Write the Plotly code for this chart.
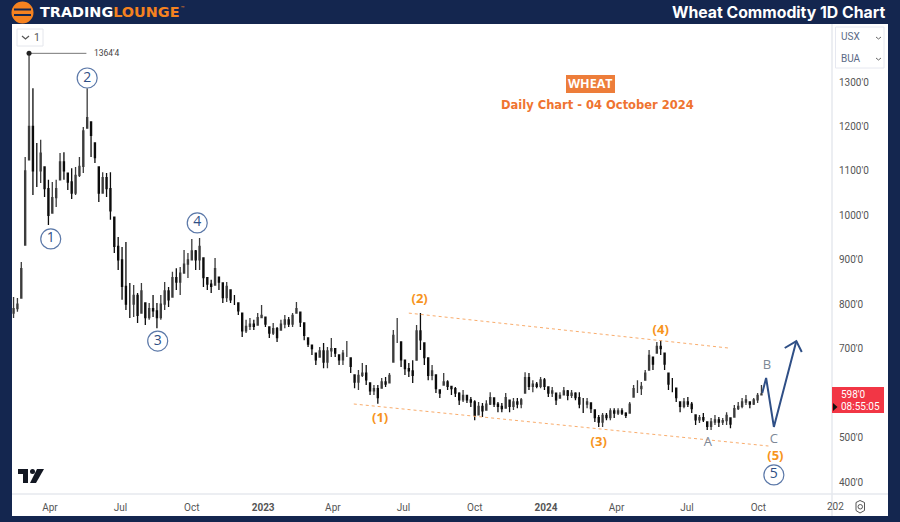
import numpy as np
import pandas as pd
import plotly.graph_objects as go

# ---------- data ----------
start_date = "2022-02-13"
highs = [816,814,895,1131,1364.5,1286,1163,1170,1109,1080,1075,1080,1140,1142,1095,1106,1109,1131,1199,1286,
 1210,1163,1109,1097,1095,1097,996,951,929,940,848,843,825,848,803,803,821,803,821,850,
 839,873,881,884,922,915,947,922,949,904,861,855,904,861,848,850,832,821,803,780,
 765,769,765,780,798,771,749,758,749,765,776,771,780,805,782,758,724,708,690,704,
 713,704,724,701,686,697,717,679,641,652,668,663,623,618,618,634,636,645,742,769,
 715,674,668,674,753,780,713,679,663,641,607,645,629,616,614,602,607,596,591,584,
 580,578,584,602,589,580,578,600,584,589,589,589,647,645,629,625,636,634,614,614,
 600,602,614,607,607,602,602,589,589,578,562,551,555,555,566,566,566,566,557,580,
 618,629,625,652,697,681,715,719,690,645,634,611,580,589,591,580,551,551,555,535,
 544,551,546,544,557,544,573,580,589,596,580,589,600,618]
lows = [769,783,814,933,1125,1046,1064,1073,1041,978,1005,1019,1080,1080,1057,1037,1046,1086,1095,1196,
 1131,1118,1030,1050,1041,990,915,877,810,787,769,771,758,780,753,765,771,746,765,787,
 794,816,832,821,870,859,900,877,877,839,832,825,843,832,803,805,803,798,776,726,
 735,742,742,753,769,749,724,731,715,742,746,749,749,780,749,719,704,686,663,681,
 656,656,681,681,663,663,681,645,611,607,636,618,596,596,576,611,614,623,670,713,
 659,641,636,623,674,697,663,629,629,600,589,618,607,596,591,573,580,578,569,539,
 551,546,562,573,569,557,557,566,557,562,566,566,600,607,602,611,611,607,591,591,
 573,589,596,584,589,584,566,555,566,555,535,524,524,539,539,544,551,551,544,555,
 591,600,596,629,652,652,690,686,652,607,602,580,557,566,569,555,528,533,535,517,
 517,528,524,528,528,521,546,562,566,573,566,573,578,596]
closes = [790,800,880,1100,1200,1100,1100,1140,1060,1000,1040,1060,1120,1100,1075,1050,1090,1110,1190,1220,
 1180,1130,1050,1085,1060,1010,930,900,840,800,800,820,775,830,770,790,785,770,800,830,
 810,860,850,870,890,900,920,900,930,860,845,840,880,850,815,840,810,810,785,740,
 750,755,750,770,775,755,735,745,725,755,765,755,775,790,760,730,710,700,675,695,
 670,695,700,690,675,690,690,660,625,640,645,630,605,610,590,625,620,640,730,730,
 675,655,650,640,740,720,680,640,650,610,600,625,615,610,600,585,595,585,580,550,
 570,560,575,590,575,570,565,590,570,580,575,585,635,615,620,615,630,615,600,605,
 585,595,605,595,600,590,575,575,580,565,545,535,550,545,560,555,560,555,550,575,
 610,610,615,645,685,665,705,700,665,620,620,590,570,580,575,565,540,545,540,525,
 535,540,535,538,550,530,565,570,580,585,575,585,595,598]

price_ticks = [1300,1200,1100,1000,900,800,700,500,400]
price_labels = ["1300'0","1200'0","1100'0","1000'0","900'0","800'0","700'0","500'0","400'0"]
date_ticks = ["2022-04-01","2022-07-01","2022-10-01","2023-01-01","2023-04-01","2023-07-01",
              "2023-10-01","2024-01-01","2024-04-01","2024-07-01","2024-10-01"]
date_labels = ["Apr","Jul","Oct","<b>2023</b>","Apr","Jul","Oct","<b>2024</b>","Apr","Jul","Oct"]

circle_labels = ["1","2","3","4","5"]
circle_dates = ["2022-04-02","2022-05-19","2022-08-18","2022-10-08","2024-10-21"]
circle_prices = [947,1309,717,983,416]

orange_labels = ["<b>(1)</b>","<b>(2)</b>","<b>(3)</b>","<b>(4)</b>","<b>(5)</b>"]
orange_dates = ["2023-06-01","2023-07-22","2024-03-09","2024-05-28","2024-10-23"]
orange_prices = [542,809.5,488,740,456]

grey_labels = ["A","B","C"]
grey_dates = ["2024-07-28","2024-10-12","2024-10-21"]
grey_prices = [488,661,494]

upper_dates = ["2023-07-08","2024-08-23"]
upper_prices = [780,701.5]
lower_dates = ["2023-04-28","2024-10-14"]
lower_prices = [575.5,481]

path_dates = ["2024-10-06","2024-10-11","2024-10-21","2024-11-19"]
path_prices = [600,634,524,717]
head_dates = ["2024-11-04","2024-11-19","2024-11-26"]
head_prices = [701.5,717,692.5]

high_dates = ["2022-03-05","2022-05-18"]
high_prices = [1364.5,1364.5]

# ---------- styling ----------
NAVY = "#14264f"
ORANGE = "#f7941d"
WAVE_BLUE = "#2f4f86"
GREY = "#7d8896"
W, H = 900, 522
L, R, T, B = 12, 832, 24, 494

def fx(x): return (x - L) / (R - L)
def fy(y): return (B - y) / (B - T)

dates = pd.date_range(start_date, periods=len(closes), freq="5D")
highs_a, lows_a, closes_a = map(np.array, (highs, lows, closes))
opens = np.clip(np.r_[780, closes_a[:-1]], lows_a, highs_a)

fig = go.Figure()
fig.add_trace(go.Candlestick(
    x=dates, open=opens, high=highs_a, low=lows_a, close=closes_a,
    increasing=dict(line=dict(color="#3c3c3c", width=1.3), fillcolor="#5a5a5a"),
    decreasing=dict(line=dict(color="#0c0c0c", width=1.3), fillcolor="#0c0c0c"),
    whiskerwidth=0, hoverinfo="skip", showlegend=False))

fig.add_trace(go.Scatter(x=upper_dates, y=upper_prices, mode="lines",
                         line=dict(color="#f9ac6c", width=1, dash="dot"), hoverinfo="skip"))
fig.add_trace(go.Scatter(x=lower_dates, y=lower_prices, mode="lines",
                         line=dict(color="#f9ac6c", width=1, dash="dot"), hoverinfo="skip"))
fig.add_trace(go.Scatter(x=path_dates, y=path_prices, mode="lines",
                         line=dict(color=WAVE_BLUE, width=2), hoverinfo="skip"))
fig.add_trace(go.Scatter(x=head_dates, y=head_prices, mode="lines",
                         line=dict(color=WAVE_BLUE, width=2), hoverinfo="skip"))
fig.add_trace(go.Scatter(x=high_dates, y=high_prices, mode="lines",
                         line=dict(color="#777777", width=1), hoverinfo="skip"))
fig.add_trace(go.Scatter(x=high_dates[:1], y=high_prices[:1], mode="markers",
                         marker=dict(color="#222222", size=5), hoverinfo="skip"))
fig.add_trace(go.Scatter(x=circle_dates, y=circle_prices, mode="markers+text", text=circle_labels,
                         textposition="middle center",
                         textfont=dict(color=WAVE_BLUE, size=14, family="Open Sans"),
                         marker=dict(size=20, color="rgba(255,255,255,0.9)",
                                     line=dict(color="#5b78a8", width=1.2)), hoverinfo="skip"))
fig.add_trace(go.Scatter(x=orange_dates, y=orange_prices, mode="text", text=orange_labels,
                         textposition="middle center",
                         textfont=dict(color=ORANGE, size=13, family="Open Sans"), hoverinfo="skip"))
fig.add_trace(go.Scatter(x=grey_dates, y=grey_prices, mode="text", text=grey_labels,
                         textposition="middle center",
                         textfont=dict(color=GREY, size=13, family="Open Sans"), hoverinfo="skip"))

shapes = []
def rect(x0, y0, x1, y1, fill, line=None, layer="above", lw=1):
    shapes.append(dict(type="rect", xref="paper", yref="paper", x0=fx(x0), x1=fx(x1), y0=fy(y0), y1=fy(y1),
                       fillcolor=fill, line=dict(color=line or fill, width=lw if line else 0), layer=layer))
def path(points, fill=None, line=None, lw=1, close=False):
    d = "M " + " L ".join(f"{fx(x):.5f},{fy(y):.5f}" for x, y in points) + (" Z" if close else "")
    shapes.append(dict(type="path", xref="paper", yref="paper", path=d, fillcolor=fill or "rgba(0,0,0,0)",
                       line=dict(color=line or "rgba(0,0,0,0)", width=lw), layer="above"))

# panels
rect(832, 24, 888, 516, "#ffffff", layer="below")
rect(12, 494, 832, 516, "#ffffff", layer="below")
path([(12, 494), (888, 494)], line="#e6e8ee", lw=1.5)
path([(832, 24), (832, 516)], line="#e6e8ee", lw=1.5)

# logo
shapes.append(dict(type="circle", xref="paper", yref="paper", x0=fx(11.5), x1=fx(33.5), y0=fy(23.5), y1=fy(1.5),
                   fillcolor="#f58220", line=dict(width=0), layer="above"))
rect(14, 8.5, 31, 10.5, NAVY)
rect(14, 14, 31, 16, NAVY)

# top-left button, selectors
shapes.append(dict(type="path", xref="paper", yref="paper", layer="above", fillcolor="#ffffff",
                   line=dict(color="#e4e6ec", width=1),
                   path=f"M {fx(17)},{fy(29)} L {fx(43)},{fy(29)} L {fx(43)},{fy(46)} L {fx(17)},{fy(46)} Z"))
path([(22, 36), (25.5, 39), (29, 36)], line="#555555", lw=1.2)
rect(835.5, 27, 884, 68, "#ffffff", line="#e6e8f0")
path([(876, 37), (878.5, 39), (881, 37)], line="#666666", lw=1)
path([(876, 58), (878.5, 60), (881, 58)], line="#666666", lw=1)

# last price tag
rect(832, 387, 884, 413, "#f23645")
path([(833, 403), (837.5, 407), (833, 411)], fill="#111111", close=True)

# gear
path([(856, 502.5), (860, 500.5), (864.5, 502.5), (864.5, 510.5), (860, 513), (856, 510.5)], line="#555555", lw=1, close=True)
shapes.append(dict(type="circle", xref="paper", yref="paper", x0=fx(858), x1=fx(862.5), y0=fy(509), y1=fy(504.5),
                   line=dict(color="#555555", width=1), layer="above"))

# TradingView mark
rect(18, 469, 28, 474, "#131722")
rect(23, 469, 28, 483, "#131722")
shapes.append(dict(type="circle", xref="paper", yref="paper", x0=fx(30), x1=fx(35), y0=fy(474), y1=fy(469),
                   fillcolor="#131722", line=dict(width=0), layer="above"))
path([(37, 469), (44, 469), (36, 483), (30, 483)], fill="#131722", close=True)

# WHEAT badge
rect(566, 75, 615, 93, "#ed7d3a")

annotations = []
def text(x, y, s, size=10, color="#555555", anchor="center", family="Roboto"):
    annotations.append(dict(xref="paper", yref="paper", x=fx(x), y=fy(y), text=s, showarrow=False,
                            xanchor=anchor, yanchor="middle", align="left",
                            font=dict(size=size, color=color, family=family)))

text(887, 12.5, "<b>Wheat Commodity 1D Chart</b>", 15.8, "#ffffff", "right", "Inter")
text(38, 12.5, "<b>TRADING<span style='color:#f58220'>LOUNGE</span></b>", 14.4, "#ffffff", "left", "DejaVu Sans")
text(183, 8, "™", 6, "#f58220")
text(37, 37.5, "1", 10.5, "#555555")
text(839, 37, "USX", 10, "#5b6a86", "left")
text(839, 58, "BUA", 10, "#5b6a86", "left")
text(590.5, 84, "<b>WHEAT</b>", 12.5, "#ffffff", "center", "Open Sans")
text(597.5, 104.5, "<b>Daily Chart - 04 October 2024</b>", 11.5, "#ef7430", "center", "DejaVu Sans")
text(107, 53, "1364'4", 8.5, "#444444")
text(839, 394, "598'0", 10, "#ffffff", "left")
text(839, 406, "08:55:05", 10, "#ffffff", "left")
text(825, 506.5, "202", 10, "#555555", "left")

fig.update_layout(
    width=W, height=H, margin=dict(l=L, r=W - R, t=T, b=H - B, pad=0, autoexpand=False),
    paper_bgcolor=NAVY, plot_bgcolor="#ffffff", showlegend=False, boxgap=0.6,
    font=dict(family="Roboto", size=10, color="#555555"),
    shapes=shapes, annotations=annotations,
    xaxis=dict(type="date", range=["2022-02-11", "2025-01-04"], rangeslider=dict(visible=False),
               showgrid=False, zeroline=False, tickmode="array", tickvals=date_ticks, ticktext=date_labels,
               ticks="outside", ticklen=4, tickcolor="rgba(0,0,0,0)", tickfont=dict(size=10, color="#555555"),
               tickangle=0, automargin=False),
    yaxis=dict(side="right", range=[373, 1430.5], showgrid=False, zeroline=False, tickmode="array",
               tickvals=price_ticks, ticktext=price_labels, ticks="outside", ticklen=4,
               tickcolor="rgba(0,0,0,0)", tickfont=dict(size=10, color="#555555"), automargin=False),
)

fig.write_html("out.html", post_script="document.body.style.margin='0';",
               config={"displayModeBar": False})
